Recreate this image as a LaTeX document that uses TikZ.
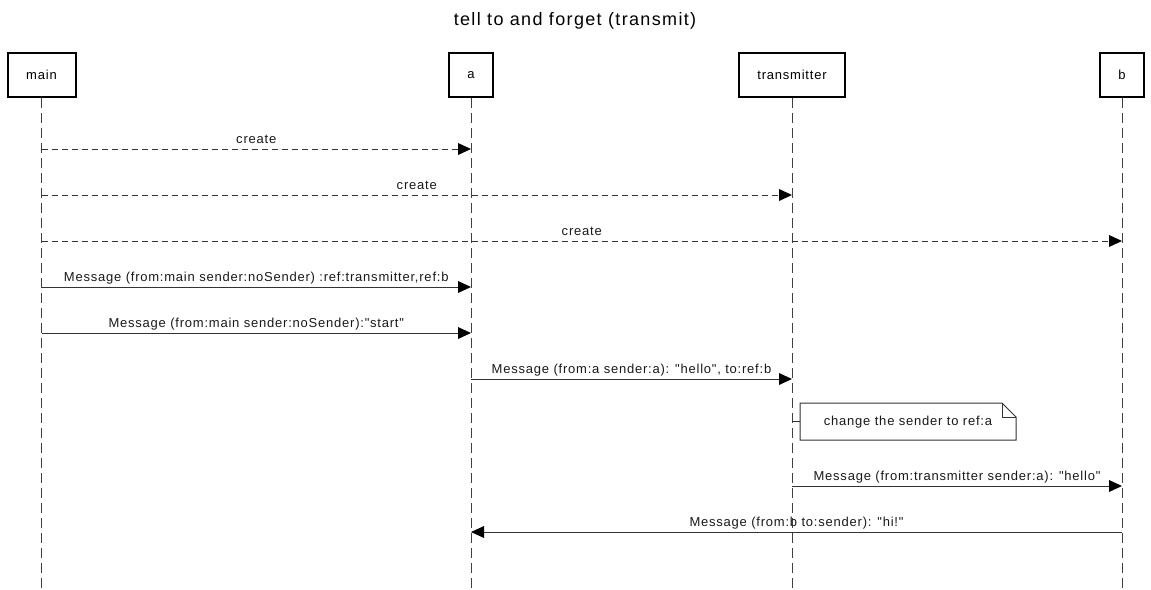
\documentclass[tikz,border=0pt]{standalone}
\usepackage{fontspec}
\setmainfont{Liberation Sans}
\newfontfamily\lblfont[LetterSpace=6]{Liberation Sans}
\newfontfamily\titlefont[LetterSpace=7.5]{Liberation Sans}
\usetikzlibrary{arrows.meta,calc}
\begin{document}
\begin{tikzpicture}[x=1pt,y=-1pt,
  actor/.style={draw=black,line width=2pt,fill=white,minimum height=44pt,inner xsep=0pt,font=\lblfont\fontsize{13}{15}\selectfont,anchor=north},
  life/.style={draw=black!75,line width=1pt,dash pattern=on 10pt off 5pt},
  msg/.style={draw=black!80,line width=1pt,-{Triangle[length=13pt,width=12pt,fill=black,line width=0pt]}},
  cmsg/.style={msg,dash pattern=on 6pt off 4pt},
  lbl/.style={font=\lblfont\fontsize{13}{15}\selectfont,text=black!90,inner sep=0pt,anchor=base}
]
\useasboundingbox (0,0) rectangle (1151,589);
\node[font=\titlefont\fontsize{18}{20}\selectfont,anchor=base] (title) at (575,25) {tell to and forget (transmit)};
\node[actor,minimum width=68pt] (main) at (41.5,52) {main};
\node[actor,minimum width=44pt] (a) at (471,52) {a};
\node[actor,minimum width=106pt] (tr) at (792,52) {transmitter};
\node[actor,minimum width=44pt] (b) at (1122,52) {b};
\foreach \n in {main,a,tr,b}{
  \coordinate (\n end) at (\n.south |- 0,589);
  \draw[life] (\n.south) -- (\n end);
}
% messages
\newcommand\mymsg[5]{% style, from, to, y, label
  \coordinate (m1) at (#2.south |- 0,#4);
  \coordinate (m2) at (#3.south |- 0,#4);
  \draw[#1] (m1) -- (m2);
  \node[lbl] at ($(m1)!0.5!(m2)+(0,-6)$) {#5};
}
\mymsg{cmsg}{main}{a}{149}{create}
\mymsg{cmsg}{main}{tr}{195}{create}
\mymsg{cmsg}{main}{b}{241}{create}
\mymsg{msg}{main}{a}{287}{Message (from:main sender:noSender) :ref:transmitter,ref:b}
\mymsg{msg}{main}{a}{333}{Message (from:main sender:noSender):"start"}
\mymsg{msg}{a}{tr}{379}{Message (from:a sender:a): "hello", to:ref:b}
\mymsg{msg}{tr}{b}{486}{Message (from:transmitter sender:a): "hello"}
\mymsg{msg}{b}{a}{532}{Message (from:b to:sender): "hi!"}
% note
\draw[black!80,line width=1pt,fill=white] (800,403) -- (1002,403) -- (1016,417) -- (1016,440) -- (800,440) -- cycle;
\draw[black!80,line width=1pt] (1002,403) -- (1002,417) -- (1016,417);
\node[lbl] (note) at (908,425.5) {change the sender to ref:a};
\coordinate (nl) at (tr.south |- 0,421);
\draw[black!80,line width=1pt] (nl) -- (800,421);
\end{tikzpicture}
\end{document}
